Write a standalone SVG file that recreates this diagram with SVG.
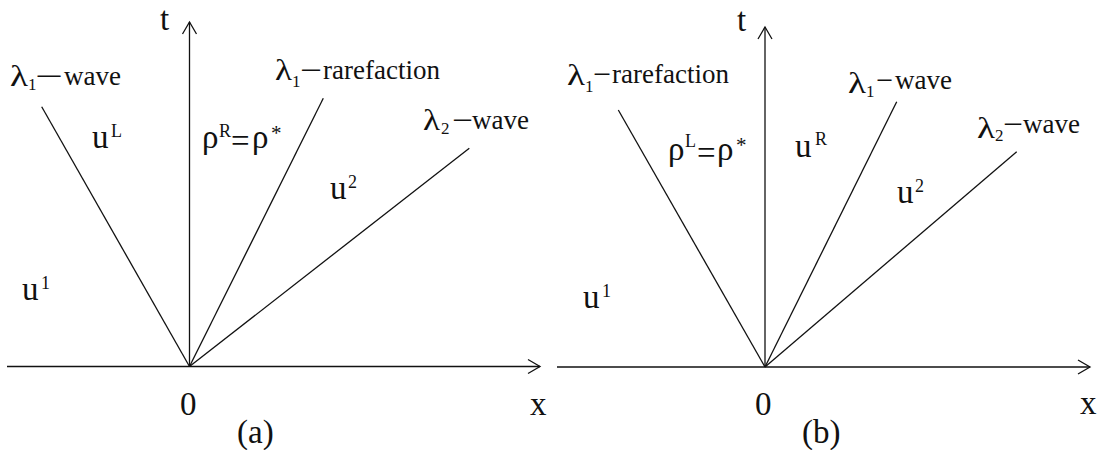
<svg xmlns="http://www.w3.org/2000/svg" width="1102" height="450" viewBox="0 0 1102 450">
<defs>
<marker id="arr" markerUnits="userSpaceOnUse" markerWidth="20" markerHeight="20" viewBox="-14 -10 16 20" refX="0" refY="0" orient="auto">
<path d="M-12,-7 L0,0 L-12,7" fill="none" stroke="#111111" stroke-width="1.3"/>
</marker>
</defs>
<style>
.t{font-family:"Liberation Serif","Times New Roman",serif;fill:#111111}
.ln{stroke:#111111;stroke-width:1.3;fill:none}
.ax{stroke:#111111;stroke-width:1.3;fill:none;marker-end:url(#arr)}
.lg{font-size:27px}
.lam{font-size:29px}
.rg{font-size:33px}
.al{font-size:33px}
.tl{font-size:33px}
.sb{font-size:17px}
.sp{font-size:18px}
.as{font-size:21px}
</style>
<rect width="1102" height="450" fill="#ffffff"/>
<g id="connectors">
<line class="ax" x1="7" y1="366.5" x2="540" y2="366.5"/>
<line class="ax" x1="189.5" y1="366.5" x2="189.5" y2="22"/>
<line class="ln" x1="41.7" y1="106.7" x2="189.5" y2="366.5"/>
<line class="ln" x1="323.3" y1="98.3" x2="189.5" y2="366.5"/>
<line class="ln" x1="469.3" y1="148.3" x2="189.5" y2="366.5"/>
<line class="ax" x1="557" y1="367" x2="1090" y2="367"/>
<line class="ax" x1="765" y1="367" x2="765" y2="27"/>
<line class="ln" x1="618.3" y1="110" x2="765" y2="367"/>
<line class="ln" x1="896.7" y1="101.7" x2="765" y2="367"/>
<line class="ln" x1="1016.7" y1="151.7" x2="765" y2="367"/>
</g>
<g id="panel-a">
<g id="a-axis-labels">
<text class="t tl" x="160" y="30">t</text>
<text class="t al" x="530" y="415">x</text>
<text class="t al" x="180" y="415">0</text>
<text class="t al" x="237" y="443">(a)</text>
</g>
<g id="a-lambda1-wave">
<text class="t lam" x="10" y="86" textLength="18" lengthAdjust="spacingAndGlyphs">λ</text>
<text class="t sb" x="28" y="90">1</text>
<text class="t lg" x="35" y="85" textLength="28" lengthAdjust="spacingAndGlyphs">−</text>
<text class="t lg" x="64" y="85">wave</text>
</g>
<g id="a-lambda1-rare">
<text class="t lam" x="275" y="80" textLength="17" lengthAdjust="spacingAndGlyphs">λ</text>
<text class="t sb" x="292" y="87">1</text>
<text class="t lg" x="300" y="79" textLength="22" lengthAdjust="spacingAndGlyphs">−</text>
<text class="t lg" x="323" y="79">rarefaction</text>
</g>
<g id="a-lambda2-wave">
<text class="t lam" x="423" y="130" textLength="17" lengthAdjust="spacingAndGlyphs">λ</text>
<text class="t sb" x="441" y="134">2</text>
<text class="t lg" x="452" y="129" textLength="21" lengthAdjust="spacingAndGlyphs">−</text>
<text class="t lg" x="472" y="129">wave</text>
</g>
<g id="a-uL">
<text class="t rg" x="92" y="148">u</text>
<text class="t sp" x="111" y="137">L</text>
</g>
<g id="a-rho">
<text class="t rg" x="202" y="148">ρ</text>
<text class="t sp" x="219" y="137">R</text>
<text class="t rg" x="231" y="152">=</text>
<text class="t rg" x="252" y="148">ρ</text>
<text class="t as" x="271" y="140">*</text>
</g>
<g id="a-u2">
<text class="t rg" x="330" y="199">u</text>
<text class="t sp" x="348" y="188">2</text>
</g>
<g id="a-u1">
<text class="t rg" x="22" y="300">u</text>
<text class="t sp" x="41" y="289">1</text>
</g>
</g>
<g id="panel-b">
<g id="b-axis-labels">
<text class="t tl" x="737" y="31">t</text>
<text class="t al" x="1080" y="414">x</text>
<text class="t al" x="755" y="415">0</text>
<text class="t al" x="802" y="443">(b)</text>
</g>
<g id="b-lambda1-rare">
<text class="t lam" x="567" y="85" textLength="18" lengthAdjust="spacingAndGlyphs">λ</text>
<text class="t sb" x="585" y="92">1</text>
<text class="t lg" x="593" y="83" textLength="18" lengthAdjust="spacingAndGlyphs">−</text>
<text class="t lg" x="612" y="83">rarefaction</text>
</g>
<g id="b-lambda1-wave">
<text class="t lam" x="848" y="93" textLength="18" lengthAdjust="spacingAndGlyphs">λ</text>
<text class="t sb" x="866" y="97">1</text>
<text class="t lg" x="876" y="89" textLength="17" lengthAdjust="spacingAndGlyphs">−</text>
<text class="t lg" x="895" y="89">wave</text>
</g>
<g id="b-lambda2-wave">
<text class="t lam" x="977" y="138" textLength="18" lengthAdjust="spacingAndGlyphs">λ</text>
<text class="t sb" x="995" y="141">2</text>
<text class="t lg" x="1003" y="133" textLength="20" lengthAdjust="spacingAndGlyphs">−</text>
<text class="t lg" x="1023" y="133">wave</text>
</g>
<g id="b-rho">
<text class="t rg" x="668" y="160">ρ</text>
<text class="t sp" x="685" y="147">L</text>
<text class="t rg" x="697" y="164">=</text>
<text class="t rg" x="717" y="160">ρ</text>
<text class="t as" x="736" y="152">*</text>
</g>
<g id="b-uR">
<text class="t rg" x="795" y="157">u</text>
<text class="t sp" x="815" y="145">R</text>
</g>
<g id="b-u2">
<text class="t rg" x="897" y="203">u</text>
<text class="t sp" x="915" y="192">2</text>
</g>
<g id="b-u1">
<text class="t rg" x="583" y="308">u</text>
<text class="t sp" x="602" y="297">1</text>
</g>
</g>
</svg>
